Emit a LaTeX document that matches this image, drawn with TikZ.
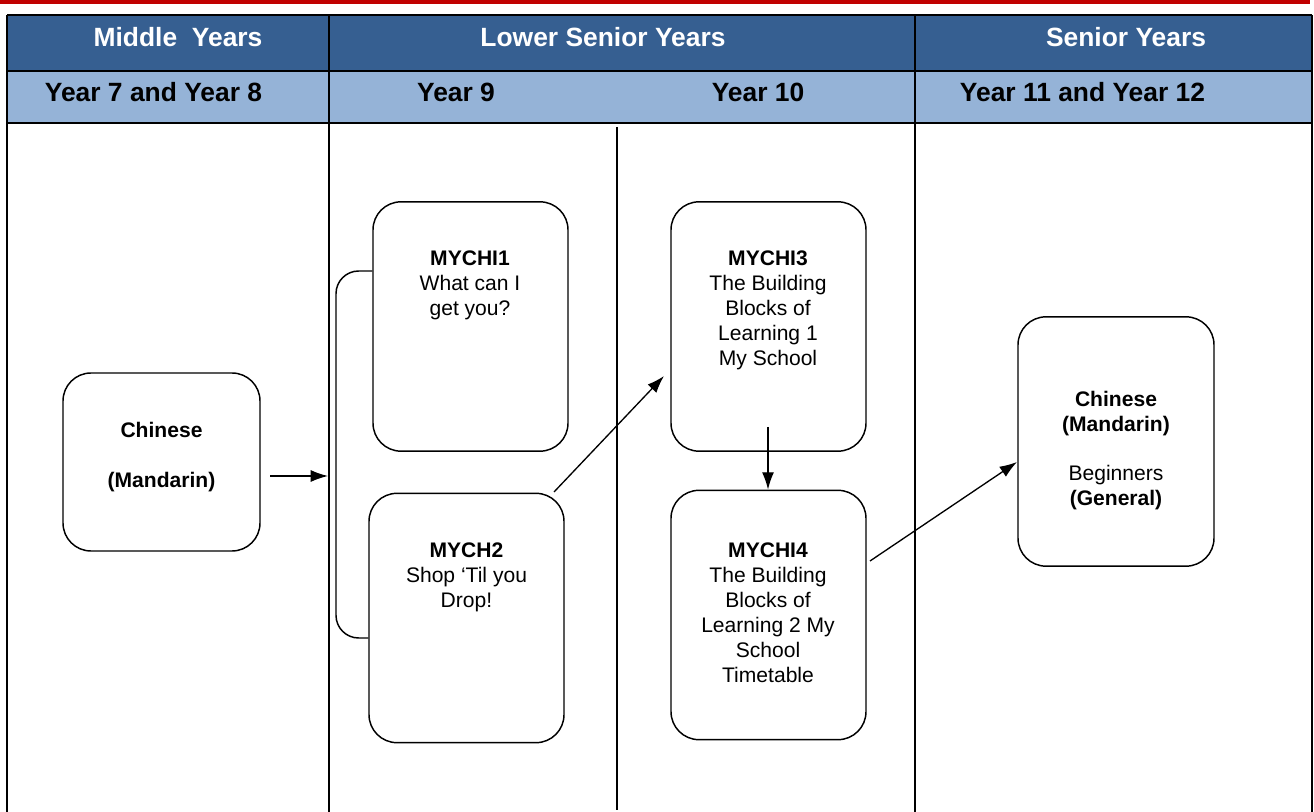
\documentclass[tikz,border=0pt]{standalone}
\usepackage{fontspec}
\setmainfont{Liberation Sans}
\usetikzlibrary{arrows.meta}
\definecolor{hdrdark}{HTML}{365F91}
\definecolor{hdrlight}{HTML}{95B3D7}
\definecolor{topred}{HTML}{C00000}
\begin{document}
\begin{tikzpicture}[x=0.75pt,y=-0.75pt,
  gridline/.style={line width=1.5pt},
  course/.style={draw,line width=1.1pt,rounded corners=21pt,inner sep=0pt,
                 minimum width=146.25pt,minimum height=187pt},
  bodytext/.style={font=\fontsize{15.8}{18.75}\selectfont,align=center,anchor=north,inner sep=0pt},
  headtext/.style={font=\fontsize{19.8}{22}\selectfont\bfseries,anchor=base,inner sep=0pt},
  arr/.style={line width=1pt,-{Latex[length=13pt,width=9pt]}},
  bracket/.style={line width=1.1pt,rounded corners=17pt},
]
\useasboundingbox (0,0) rectangle (1314,812);

% red rule and header bands
\fill[topred] (0,0) rectangle (1310,4.5);
\fill[hdrdark] (7,15) rectangle (1312,71);
\fill[hdrlight] (7,71) rectangle (1312,123);

% table grid
\draw[gridline] (7,15) -- (1312,15);
\draw[gridline] (7,71) -- (1312,71);
\draw[gridline] (7,123) -- (1312,123);
\draw[gridline] (7,15) -- (7,812);
\draw[gridline] (329,15) -- (329,812);
\draw[gridline] (915,15) -- (915,812);
\draw[gridline] (1312,15) -- (1312,812);
\draw[line width=1.2pt] (617,127) -- (617,810);

% header texts
\node[headtext,text=white] (hmid) at (178,46.5) {Middle\ \ Years};
\node[headtext,text=white] (hlow) at (603,46.5) {Lower Senior Years};
\node[headtext,text=white] (hsen) at (1126,46.5) {Senior Years};
\node[headtext] (y78) at (153.5,101.5) {Year 7 and Year 8};
\node[headtext] (y9) at (456,101.5) {Year 9};
\node[headtext] (y10) at (758,101.5) {Year 10};
\node[headtext] (y1112) at (1082.5,101.5) {Year 11 and Year 12};

% course boxes
\node[course,minimum width=147.75pt,minimum height=133.5pt] (chin) at (161.5,462) {};
\node[course] (m1) at (470.5,326.5) {};
\node[course] (m2) at (466.5,618) {};
\node[course] (m3) at (768.5,326.5) {};
\node[course] (m4) at (768.5,615) {};
\node[course,minimum width=147pt] (beg) at (1116,441.5) {};

% box texts
\node[bodytext] (tchin) at (161.5,421.5) {\textbf{Chinese}\\[18.75pt]\textbf{(Mandarin)}};
\node[bodytext] (tm1) at (470,250.5) {\textbf{MYCHI1}\\What can I\\get you?};
\node[bodytext] (tm2) at (466.5,543) {\textbf{MYCH2}\\Shop ‘Til you\\Drop!};
\node[bodytext] (tm3) at (768,250.5) {\textbf{MYCHI3}\\The Building\\Blocks of\\Learning 1\\My School};
\node[bodytext] (tm4) at (768,543) {\textbf{MYCHI4}\\The Building\\Blocks of\\Learning 2 My\\School\\Timetable};
\node[bodytext] (tbeg) at (1116,390.5) {\textbf{Chinese}\\\textbf{(Mandarin)}\\[18pt]Beginners\\\textbf{(General)}};

% bracket joining the two Year 9 units
\draw[bracket] (m1.west |- 0,271) -- (336,271) -- (336,638) -- (m2.west |- 0,638);

% arrow end points
\coordinate (a1s) at (270,476);
\coordinate (a1e) at (328,476);
\coordinate (a2s) at (554,492);
\coordinate (a2e) at (664,376);
\coordinate (a3s) at (768,427);
\coordinate (a4s) at (870,561);
\coordinate (a4e) at (1017,462);

% progression arrows
\draw[arr] (a1s) -- (a1e);
\draw[arr] (a2s) -- (a2e);
\draw[arr] (a3s) -- (a3s |- m4.north);
\draw[arr] (a4s) -- (a4e);
\end{tikzpicture}
\end{document}
